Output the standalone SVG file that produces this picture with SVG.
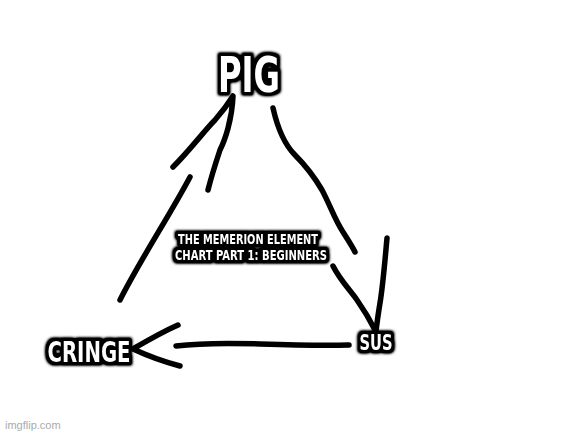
<svg xmlns="http://www.w3.org/2000/svg" width="577" height="433" viewBox="0 0 577 433">
<defs>
<filter id="glow" x="-20%" y="-30%" width="140%" height="160%">
<feMorphology in="SourceAlpha" operator="dilate" radius="1.5" result="d"/>
<feGaussianBlur in="d" stdDeviation="1.5" result="b"/>
<feComponentTransfer in="b" result="c"><feFuncA type="linear" slope="2"/></feComponentTransfer>
<feMerge><feMergeNode in="c"/><feMergeNode in="SourceGraphic"/></feMerge>
</filter>
</defs>
<style>
.s{fill:none;stroke:#000;stroke-width:5.5;stroke-linecap:round;stroke-linejoin:round}
.m{font-family:Impact,"DejaVu Sans Condensed","Liberation Sans Narrow","Liberation Sans",sans-serif;font-weight:bold;fill:#fff;stroke:#000;stroke-width:2;paint-order:stroke;stroke-linejoin:round;filter:url(#glow)}
</style>
<rect width="577" height="433" fill="#fff"/>
<g id="connectors">
<path class="s" d="M173,167 C190,150 205,130 215,120 C222,112 228,104 233,96 C232,120 225,140 220,150 C215,165 211,178 208,190"/>
<path class="s" d="M190,177 C170,215 140,260 120,300"/>
<path class="s" d="M273,108 C278,130 285,145 295,155 C305,165 315,178 322,190 C330,205 335,220 343,232 C348,240 352,246 355,252"/>
<path class="s" d="M333,266 C340,280 350,290 357,300 C364,310 370,320 375,330"/>
<path class="s" d="M387,238 C385,260 383,285 380,303 C378,315 377,323 376,331"/>
<path class="s" d="M349,345 C320,346 290,345 260,344 C230,343 200,343 176,346"/>
<path class="s" d="M178,325 C160,333 145,342 133,349 C148,356 165,362 180,366"/>
</g>
<g id="pig"><text class="m" x="249" y="92" font-size="50" text-anchor="middle" textLength="62" lengthAdjust="spacingAndGlyphs">PIG</text></g>
<g id="title">
<text class="m" x="248" y="244" font-size="14.5" stroke-width="1.5" text-anchor="middle" textLength="140" lengthAdjust="spacingAndGlyphs">THE MEMERION ELEMENT</text>
<text class="m" x="251" y="260" font-size="14.5" stroke-width="1.5" text-anchor="middle" textLength="152" lengthAdjust="spacingAndGlyphs">CHART PART 1: BEGINNERS</text>
</g>
<g id="cringe"><text class="m" x="89" y="362" font-size="28" text-anchor="middle" textLength="83" lengthAdjust="spacingAndGlyphs">CRINGE</text></g>
<g id="sus"><text class="m" x="376" y="350" font-size="22" stroke-width="1.5" text-anchor="middle" textLength="33" lengthAdjust="spacingAndGlyphs">SUS</text></g>
<text x="5" y="429" font-family="Liberation Sans,Arial,sans-serif" font-size="11" fill="#aaa">imgflip.com</text>
</svg>
